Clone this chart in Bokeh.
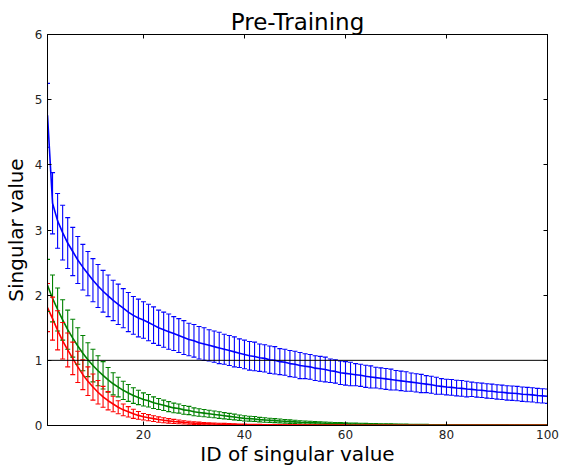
from bokeh.plotting import figure
from bokeh.models import Whisker, Span, LinearAxis, ColumnDataSource, FixedTicker, TeeHead, Range1d
from bokeh.embed import file_html
from bokeh.resources import INLINE

ids = list(range(1, 101))

blue_mean = [4.76, 3.41, 3.14, 2.96, 2.80, 2.67, 2.54, 2.43, 2.33, 2.23,
             2.14, 2.06, 1.99, 1.92, 1.86, 1.80, 1.74, 1.69, 1.65, 1.62,
             1.58, 1.54, 1.50, 1.47, 1.44, 1.41, 1.38, 1.35, 1.32, 1.30,
             1.27, 1.25, 1.23, 1.21, 1.19, 1.17, 1.15, 1.13, 1.11, 1.09,
             1.07, 1.06, 1.04, 1.03, 1.01, 1.00, 0.98, 0.97, 0.95, 0.94,
             0.92, 0.91, 0.90, 0.88, 0.87, 0.86, 0.84, 0.83, 0.81, 0.80,
             0.79, 0.78, 0.77, 0.755, 0.745, 0.735, 0.725, 0.715, 0.705, 0.695,
             0.685, 0.675, 0.665, 0.655, 0.645, 0.635, 0.625, 0.61, 0.60, 0.59,
             0.585, 0.575, 0.57, 0.56, 0.555, 0.545, 0.54, 0.53, 0.525, 0.515,
             0.51, 0.50, 0.495, 0.49, 0.48, 0.475, 0.47, 0.46, 0.455, 0.45]
blue_err = [0.49, 0.47, 0.42, 0.42, 0.39, 0.37, 0.36, 0.35, 0.34, 0.33,
            0.33, 0.32, 0.32, 0.31, 0.31, 0.30, 0.30, 0.29, 0.29, 0.28,
            0.28, 0.28, 0.27, 0.27, 0.27, 0.26, 0.26, 0.26, 0.25, 0.25,
            0.25, 0.25, 0.24, 0.24, 0.24, 0.23, 0.23, 0.23, 0.22, 0.22,
            0.22, 0.22, 0.21, 0.21, 0.21, 0.21, 0.20, 0.20, 0.20, 0.20,
            0.20, 0.19, 0.19, 0.19, 0.19, 0.19, 0.18, 0.18, 0.18, 0.18,
            0.18, 0.17, 0.17, 0.17, 0.17, 0.16, 0.16, 0.16, 0.16, 0.15,
            0.15, 0.15, 0.14, 0.14, 0.14, 0.13, 0.13, 0.13, 0.12, 0.12,
            0.12, 0.12, 0.12, 0.12, 0.11, 0.11, 0.11, 0.11, 0.11, 0.11,
            0.11, 0.11, 0.11, 0.11, 0.11, 0.11, 0.11, 0.11, 0.11, 0.11]

green_mean = [2.15, 1.95, 1.78, 1.62, 1.47, 1.34, 1.22, 1.11, 1.01, 0.92,
              0.84, 0.77, 0.70, 0.64, 0.59, 0.54, 0.50, 0.46, 0.43, 0.40,
              0.38, 0.35, 0.33, 0.31, 0.29, 0.27, 0.26, 0.24, 0.23, 0.21,
              0.20, 0.19, 0.18, 0.17, 0.16, 0.15, 0.14, 0.13, 0.12, 0.11,
              0.105, 0.10, 0.09, 0.085, 0.08, 0.075, 0.07, 0.065, 0.06, 0.055,
              0.05, 0.047, 0.044, 0.041, 0.038, 0.035, 0.032, 0.030, 0.028, 0.026,
              0.024, 0.022, 0.020, 0.019, 0.018, 0.017, 0.016, 0.015, 0.014, 0.013,
              0.012, 0.012, 0.011, 0.011, 0.010, 0.010, 0.009, 0.009, 0.008, 0.008,
              0.007, 0.007, 0.007, 0.006, 0.006, 0.006, 0.006, 0.005, 0.005, 0.005,
              0.005, 0.005, 0.004, 0.004, 0.004, 0.004, 0.004, 0.004, 0.004, 0.004]
green_err = [0.40, 0.36, 0.33, 0.31, 0.30, 0.29, 0.28, 0.27, 0.26, 0.25,
             0.23, 0.21, 0.19, 0.17, 0.15, 0.14, 0.13, 0.12, 0.11, 0.10,
             0.095, 0.09, 0.085, 0.08, 0.077, 0.074, 0.07, 0.067, 0.063, 0.06,
             0.058, 0.056, 0.054, 0.052, 0.05, 0.048, 0.046, 0.044, 0.042, 0.04,
             0.038, 0.037, 0.035, 0.034, 0.032, 0.031, 0.030, 0.028, 0.027, 0.025,
             0.024, 0.023, 0.022, 0.021, 0.020, 0.019, 0.018, 0.017, 0.016, 0.015,
             0.015, 0.014, 0.014, 0.013, 0.013, 0.012, 0.012, 0.011, 0.011, 0.010,
             0.010, 0.009, 0.009, 0.008, 0.008, 0.007, 0.007, 0.006, 0.006, 0.005,
             0.005, 0.005, 0.005, 0.005, 0.005, 0.005, 0.005, 0.005, 0.005, 0.005,
             0.005, 0.005, 0.005, 0.005, 0.005, 0.005, 0.005, 0.005, 0.005, 0.005]

red_mean = [1.81, 1.64, 1.46, 1.30, 1.16, 1.03, 0.90, 0.78, 0.68, 0.59,
            0.51, 0.44, 0.38, 0.33, 0.28, 0.24, 0.21, 0.18, 0.155, 0.135,
            0.12, 0.105, 0.092, 0.081, 0.071, 0.062, 0.055, 0.048, 0.042, 0.037,
            0.033, 0.029, 0.026, 0.023, 0.020, 0.018, 0.016, 0.014, 0.012, 0.011,
            0.010, 0.009, 0.009, 0.008, 0.008, 0.007, 0.007, 0.006, 0.006, 0.006,
            0.005, 0.005, 0.005, 0.005, 0.004, 0.004, 0.004, 0.004, 0.004, 0.004,
            0.003, 0.003, 0.003, 0.003, 0.003, 0.003, 0.003, 0.003, 0.003, 0.003,
            0.003, 0.003, 0.002, 0.002, 0.002, 0.002, 0.002, 0.002, 0.002, 0.002,
            0.002, 0.002, 0.002, 0.002, 0.002, 0.002, 0.002, 0.002, 0.002, 0.002,
            0.002, 0.002, 0.002, 0.002, 0.002, 0.002, 0.002, 0.002, 0.002, 0.002]
red_err = [0.37, 0.33, 0.30, 0.28, 0.26, 0.25, 0.24, 0.23, 0.22, 0.20,
           0.18, 0.16, 0.14, 0.12, 0.10, 0.09, 0.08, 0.07, 0.06, 0.05,
           0.047, 0.044, 0.041, 0.038, 0.035, 0.032, 0.029, 0.026, 0.023, 0.020,
           0.019, 0.018, 0.017, 0.016, 0.015, 0.014, 0.013, 0.012, 0.011, 0.010,
           0.009, 0.009, 0.008, 0.008, 0.007, 0.007, 0.006, 0.006, 0.005, 0.005,
           0.005, 0.005, 0.005, 0.005, 0.005, 0.005, 0.005, 0.005, 0.005, 0.005,
           0.004, 0.004, 0.004, 0.004, 0.004, 0.004, 0.004, 0.004, 0.004, 0.004,
           0.004, 0.004, 0.004, 0.004, 0.004, 0.004, 0.004, 0.004, 0.004, 0.004,
           0.004, 0.004, 0.004, 0.004, 0.004, 0.004, 0.004, 0.004, 0.004, 0.004,
           0.004, 0.004, 0.004, 0.004, 0.004, 0.004, 0.004, 0.004, 0.004, 0.004]

x_ticks = [20, 40, 60, 80, 100]
y_ticks = [0, 1, 2, 3, 4, 5, 6]

FONT = "DejaVu Sans"

p = figure(width=561, height=470, x_range=Range1d(1, 100), y_range=Range1d(0, 6),
           output_backend="svg", toolbar_location=None,
           min_border_left=46, min_border_right=14, min_border_top=34, min_border_bottom=45)

p.title.text = "Pre-Training"
p.title.align = "center"
p.title.text_font = FONT
p.title.text_font_size = "23px"
p.title.text_font_style = "normal"
p.title.text_color = "black"
p.title.standoff = 0

p.xgrid.visible = False
p.ygrid.visible = False
p.outline_line_color = "black"
p.outline_line_width = 1

p.xaxis.ticker = FixedTicker(ticks=x_ticks)
p.yaxis.ticker = FixedTicker(ticks=y_ticks)
p.xaxis.axis_label = "ID of singular value"
p.yaxis.axis_label = "Singular value"

for ax in [p.xaxis[0], p.yaxis[0]]:
    ax.axis_label_text_font = FONT
    ax.axis_label_text_font_size = "20px"
    ax.axis_label_text_font_style = "normal"
    ax.axis_label_text_color = "black"
    ax.major_label_text_font = FONT
    ax.major_label_text_font_size = "12px"
    ax.major_label_text_color = "#222222"
    ax.major_tick_in = 4
    ax.major_tick_out = 0
    ax.minor_tick_line_color = None
    ax.axis_line_color = "black"
    ax.major_tick_line_color = "black"
p.xaxis.axis_label_standoff = 0
p.yaxis.axis_label_standoff = 4
p.xaxis.major_label_standoff = 4
p.yaxis.major_label_standoff = 5

top_ax = LinearAxis(ticker=FixedTicker(ticks=x_ticks), major_label_text_color=None,
                    major_label_text_font_size="1px",
                    major_tick_in=4, major_tick_out=0, minor_tick_line_color=None,
                    axis_line_color="black", major_label_standoff=0)
right_ax = LinearAxis(ticker=FixedTicker(ticks=y_ticks), major_label_text_color=None,
                      major_label_text_font_size="1px",
                      major_tick_in=4, major_tick_out=0, minor_tick_line_color=None,
                      axis_line_color="black", major_label_standoff=0)
p.add_layout(top_ax, "above")
p.add_layout(right_ax, "right")

series = [(blue_mean, blue_err, "#0000ff"),
          (green_mean, green_err, "#008000"),
          (red_mean, red_err, "#ff0000")]

for mean, err, color in series:
    src = ColumnDataSource(dict(
        x=ids, y=mean,
        upper=[m + e for m, e in zip(mean, err)],
        lower=[max(m - e, 0) for m, e in zip(mean, err)],
    ))
    w = Whisker(source=src, base="x", upper="upper", lower="lower",
                line_color=color, line_width=1.1,
                upper_head=TeeHead(size=5, line_color=color, line_width=1.1),
                lower_head=TeeHead(size=5, line_color=color, line_width=1.1),
                level="glyph")
    p.add_layout(w)
    p.line("x", "y", source=src, line_color=color, line_width=1.6)

p.add_layout(Span(location=1, dimension="width", line_color="black", line_width=1, level="overlay"))

open("out.html", "w").write(file_html(p, INLINE))
